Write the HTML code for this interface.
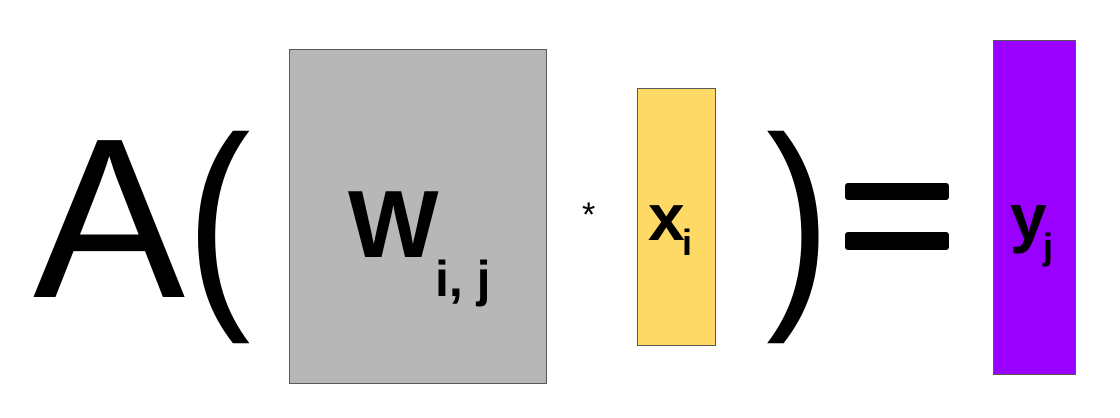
<!DOCTYPE html>
<html><head><meta charset="utf-8"><style>
html,body{margin:0;padding:0;width:1120px;height:418px;background:#fff;overflow:hidden}
.t{position:absolute;font-family:"Liberation Sans",Arial,sans-serif;color:#000;line-height:1;white-space:nowrap}
.r{position:absolute;box-sizing:border-box;border:1.5px solid #595959}
</style></head><body>
<div class="t" style="left:33px;top:105px;font-size:228px">A</div>
<div class="t" style="left:186px;top:104px;font-size:228px;transform:scaleX(0.85);transform-origin:left">(</div>
<div class="r" style="left:289px;top:49px;width:258px;height:335px;background:#b7b7b7"></div>
<div class="t" style="left:348px;top:177px;font-size:96px;font-weight:bold">W</div>
<div class="t" style="left:435px;top:254px;font-size:50px;font-weight:bold">i, j</div>
<div class="t" style="left:582px;top:198px;font-size:34px">*</div>
<div class="r" style="left:637px;top:88px;width:79px;height:258px;background:#ffd966"></div>
<div class="t" style="left:648px;top:184px;font-size:66px;font-weight:bold">x</div>
<div class="t" style="left:682px;top:225px;font-size:36px;font-weight:bold">i</div>
<div class="t" style="left:766px;top:104px;font-size:228px;transform:scaleX(0.85);transform-origin:left">)</div>
<div style="position:absolute;left:845px;top:183px;width:104px;height:17px;background:#000;border-radius:3px"></div>
<div style="position:absolute;left:845px;top:232px;width:104px;height:18px;background:#000;border-radius:3px"></div>
<div class="r" style="left:993px;top:40px;width:83px;height:335px;background:#9900ff"></div>
<div class="t" style="left:1010px;top:184px;font-size:66px;font-weight:bold">y</div>
<div class="t" style="left:1043px;top:229px;font-size:36px;font-weight:bold">j</div>
</body></html>
